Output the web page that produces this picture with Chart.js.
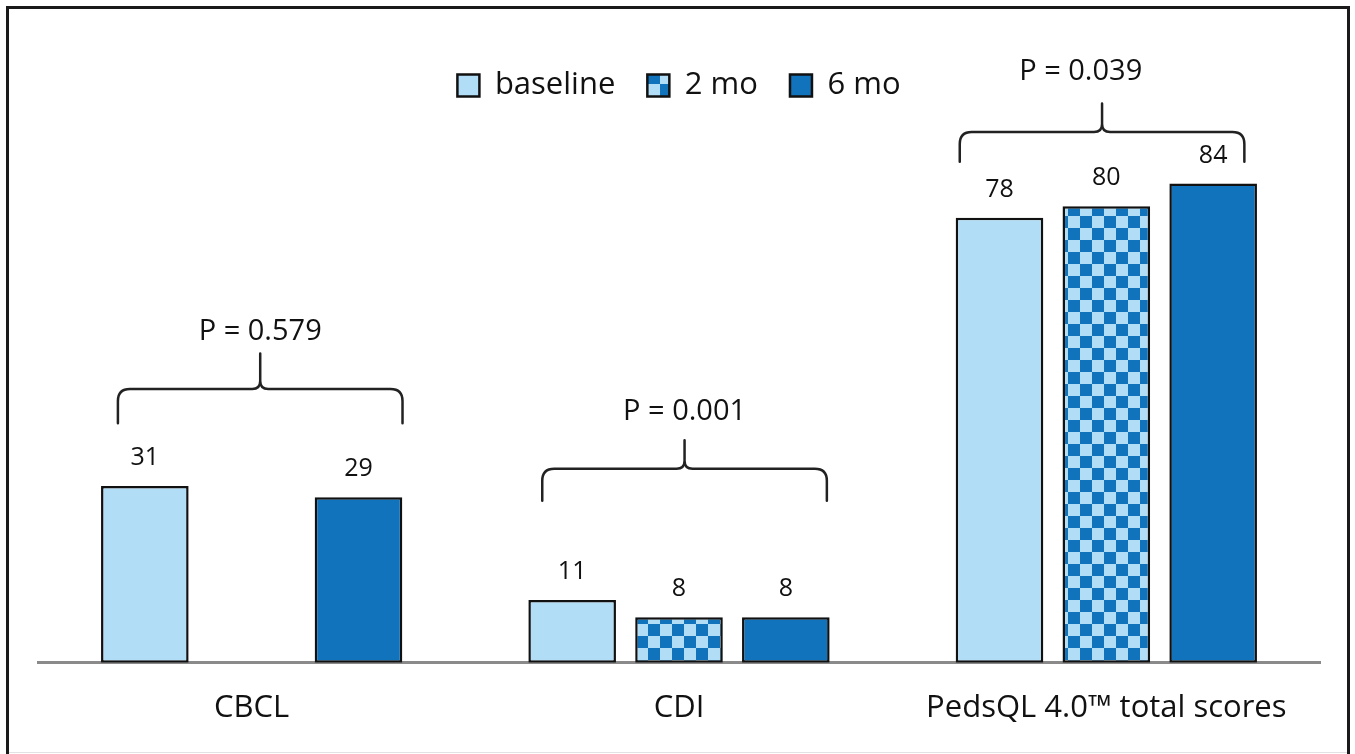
<!DOCTYPE html>
<html lang="en">
<head>
<meta charset="UTF-8">
<title>CBCL / CDI / PedsQL scores</title>
<script src="https://cdn.jsdelivr.net/npm/chart.js"></script>
<style>
  html, body { margin: 0; padding: 0; background: #fff; }
  #wrap { position: relative; width: 1355px; height: 754px; overflow: hidden; }
  #frame { position: absolute; left: 6px; top: 6px; width: 1338px; height: 760px;
           border: 3px solid #1a1a1a; border-bottom: none; pointer-events: none; }
  #bottomLine { position: absolute; left: 9px; right: 8px; top: 752px; height: 1px; background: #e2e2e2; }
</style>
</head>
<body>
<div id="wrap">
  <canvas id="chart" width="1355" height="754"></canvas>
  <div id="frame"></div>
  <div id="bottomLine"></div>
</div>
<script>
const categories = ['CBCL', 'CDI', 'PedsQL 4.0\u2122 total scores'];
const baseline = [31, 11, 78];
const mo2 = [null, 8, 80];
const mo6 = [29, 8, 84];
const pValues = ['P = 0.579', 'P = 0.001', 'P = 0.039'];

// brace levels in score units: [bottom of arms, horizontal, tip, label]
const braceLevels = [
  [42, 48, 54.2, 58],
  [28.4, 34, 39, 44],
  [87.8, 93, 98, 103.5]
];
const braceShift = [0.02, 0.013, -0.01];
const labelShift = [0, 0, -0.05];

const light = '#b2ddf6';
const dark = '#1173bb';

function checker() {
  const c = document.createElement('canvas');
  c.width = 24; c.height = 24;
  const g = c.getContext('2d');
  g.fillStyle = light; g.fillRect(0, 0, 24, 24);
  g.fillStyle = dark; g.fillRect(0, 0, 12, 12); g.fillRect(12, 12, 12, 12);
  return g.createPattern(c, 'repeat');
}
const pattern = checker();

const valueLabels = {
  id: 'valueLabels',
  afterDatasetsDraw(chart) {
    const ctx = chart.ctx;
    ctx.save();
    ctx.font = '25px "Open Sans"';
    ctx.fillStyle = '#111';
    ctx.textAlign = 'center';
    ctx.textBaseline = 'middle';
    chart.data.datasets.forEach((ds, di) => {
      chart.getDatasetMeta(di).data.forEach((bar, i) => {
        if (ds.data[i] == null) return;
        ctx.fillText(String(ds.data[i]), bar.x, bar.y - 28);
      });
    });
    ctx.restore();
  }
};

const braces = {
  id: 'braces',
  afterDatasetsDraw(chart) {
    const ctx = chart.ctx;
    const xs = chart.scales.x, ys = chart.scales.y;
    ctx.save();
    ctx.strokeStyle = '#222';
    ctx.lineWidth = 2.5;
    ctx.lineCap = 'round';
    ctx.lineJoin = 'round';
    braceLevels.forEach((lv, i) => {
      const c = xs.getPixelForValue(i + braceShift[i]);
      const L = xs.getPixelForValue(i + braceShift[i] - 0.333);
      const R = xs.getPixelForValue(i + braceShift[i] + 0.333);
      const yb = ys.getPixelForValue(lv[0]);
      const yh = ys.getPixelForValue(lv[1]);
      const yt = ys.getPixelForValue(lv[2]);
      const r = 12, r2 = 8;
      ctx.beginPath();
      ctx.moveTo(L, yb);
      ctx.lineTo(L, yh + r);
      ctx.quadraticCurveTo(L, yh, L + r, yh);
      ctx.lineTo(c - r2, yh);
      ctx.quadraticCurveTo(c, yh, c, yh - r2);
      ctx.lineTo(c, yt);
      ctx.moveTo(c, yh - r2);
      ctx.quadraticCurveTo(c, yh, c + r2, yh);
      ctx.lineTo(R - r, yh);
      ctx.quadraticCurveTo(R, yh, R, yh + r);
      ctx.lineTo(R, yb);
      ctx.stroke();
      ctx.font = '29px "Open Sans"';
      ctx.fillStyle = '#111';
      ctx.textAlign = 'center';
      ctx.textBaseline = 'middle';
      ctx.fillText(pValues[i], xs.getPixelForValue(i + braceShift[i] + labelShift[i]),
                   ys.getPixelForValue(lv[3]));
    });
    ctx.restore();
  }
};

const common = { borderColor: '#111', borderWidth: 2.5, borderSkipped: false,
                 categoryPercentage: 0.75, barPercentage: 0.82 };

new Chart(document.getElementById('chart'), {
  type: 'bar',
  data: {
    labels: categories,
    datasets: [
      Object.assign({ label: 'baseline', data: baseline, backgroundColor: light }, common),
      Object.assign({ label: '2 mo', data: mo2, backgroundColor: pattern }, common),
      Object.assign({ label: '6 mo', data: mo6, backgroundColor: dark }, common)
    ]
  },
  options: {
    responsive: false,
    animation: false,
    layout: { padding: { left: 38, right: 35, top: 38, bottom: 0 } },
    plugins: {
      tooltip: { enabled: false },
      legend: {
        position: 'top',
        align: 'center',
        labels: {
          boxWidth: 22, boxHeight: 22, padding: 32,
          color: '#111',
          font: { family: 'Open Sans', size: 31 }
        }
      }
    },
    scales: {
      x: {
        z: 1,
        grid: { display: false, drawTicks: false },
        border: { color: '#8a8a8a', width: 3 },
        ticks: { color: '#111', padding: 27, font: { family: 'Open Sans', size: 31 } }
      },
      y: { display: false, min: 0, max: 96.7 }
    }
  },
  plugins: [valueLabels, braces]
});
</script>
</body>
</html>
